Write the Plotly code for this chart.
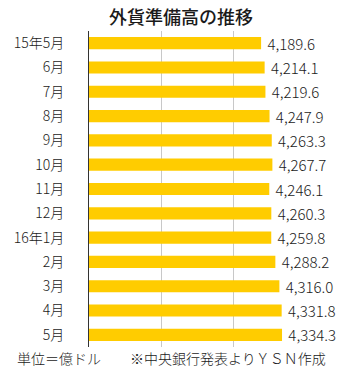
import plotly.graph_objects as go

months = ["15年5月", "6月", "7月", "8月", "9月", "10月", "11月", "12月",
          "16年1月", "2月", "3月", "4月", "5月"]
values = [4189.6, 4214.1, 4219.6, 4247.9, 4263.3, 4267.7, 4246.1, 4260.3,
          4259.8, 4288.2, 4316.0, 4331.8, 4334.3]
tick_vals = [3000, 3500, 4000, 4500]

FONT = "Noto Sans CJK JP"

fig = go.Figure(go.Bar(
    y=months, x=values, orientation="h",
    marker=dict(color="#FFCC00", line=dict(width=0)),
    text=[" " + f"{v:,.1f}" for v in values],
    textposition="outside",
    constraintext="none",
    textfont=dict(family=FONT, size=15, color="#1a1a1a", weight=300),
    cliponaxis=False,
    width=0.5,
))

fig.update_layout(
    width=348, height=375,
    margin=dict(l=89, r=42, t=31, b=28),
    paper_bgcolor="white", plot_bgcolor="white",
    showlegend=False,
    font=dict(family=FONT, color="#1a1a1a"),
    title=dict(text="外貨準備高の推移", x=0.52, xanchor="center",
               y=0.952, yanchor="middle",
               font=dict(family=FONT, size=18, color="#1a1a1a", weight=500)),
    xaxis=dict(range=[3000, 4500], tickvals=tick_vals, showticklabels=False,
               showgrid=True, gridcolor="#c8c8c8", gridwidth=1,
               zeroline=False, showline=False, fixedrange=True),
    yaxis=dict(autorange="reversed", showline=True, linecolor="#333333",
               linewidth=1, ticks="", ticklabelstandoff=21,
               tickfont=dict(family=FONT, size=14, color="#1a1a1a", weight=300),
               showgrid=False, fixedrange=True),
    annotations=[
        dict(text="単位＝億ドル", x=15, y=358, xref="paper", yref="paper",
             showarrow=False),
        dict(text="※中央銀行発表よりＹＳＮ作成", x=128, y=358,
             xref="paper", yref="paper", showarrow=False),
    ],
)

# convert pixel positions of footer annotations to paper coords
pw, ph = 348 - 89 - 42, 375 - 31 - 28
for a in fig.layout.annotations:
    px, py = a.x, a.y
    a.x = (px - 89) / pw
    a.y = (375 - 28 - py) / ph
    a.xanchor = "left"
    a.yanchor = "middle"
    a.font = dict(family=FONT, size=14, color="#1a1a1a", weight=300)

fig.write_html("out.html")
